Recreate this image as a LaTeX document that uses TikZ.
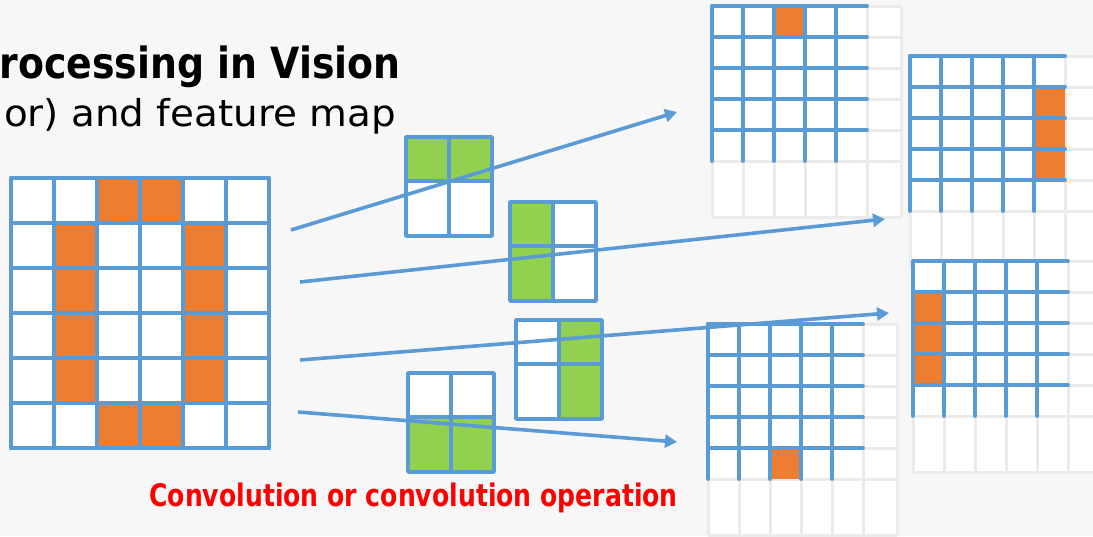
\documentclass[tikz,border=0pt]{standalone}
\usepackage{fontspec}
\setmainfont{DejaVu Sans}
\usepackage{xcolor}
\usetikzlibrary{arrows.meta}
\definecolor{gridblue}{HTML}{5B9BD5}
\definecolor{pixorange}{HTML}{ED7D31}
\definecolor{kerngreen}{HTML}{92D050}
\definecolor{fadegray}{HTML}{EBEBEB}
\definecolor{slidebg}{HTML}{F7F7F7}
\definecolor{alertred}{HTML}{FF0000}
\newcommand{\blueline}{[draw=gridblue, line width=3.8pt, line cap=round, line join=round]}
\newcommand{\grayline}{[draw=fadegray, line width=3pt]}
\newcommand{\pixel}{[fill=pixorange]}
\newcommand{\weight}{[fill=kerngreen]}
\newcommand{\flow}{[draw=gridblue, line width=3.6pt, -{Triangle[length=12pt,width=13pt]}]}
% output map: 5x5 live cells plus a faded row and column
\newcommand{\featuremap}[3]{%
  \begin{scope}[shift={(#1,#2)}]
    \fill[white] (0,0) rectangle (189,211);
    \foreach \c in {0,31,62,93,124,155,189} \draw \grayline (\c,0) -- (\c,211);
    \foreach \r in {0,31,62,93,124,155,211} \draw \grayline (0,\r) -- (189,\r);
    \foreach \c/\r in {#3} \fill \pixel (31*\c,31*\r) rectangle ++(31,31);
    \foreach \r in {0,...,4} \draw \blueline (0,31*\r) -- (155,31*\r);
    \foreach \c in {0,...,4} \draw \blueline (31*\c,0) -- (31*\c,155);
  \end{scope}}
% 2x2 filter
\newcommand{\kernel}[3]{%
  \begin{scope}[shift={(#1,#2)}]
    \fill[white] (0,0) rectangle (86,99);
    \foreach \c/\r in {#3} \fill \weight (43*\c,44*\r) rectangle (43*\c+43,44+55*\r);
    \draw \blueline (0,0) rectangle (86,99);
    \draw \blueline (43,0) -- (43,99) (0,44) -- (86,44);
  \end{scope}}

\begin{document}
\begin{tikzpicture}[x=1pt,y=-1pt]
				\fill[slidebg] (0,0) rectangle (1093,536);
				\useasboundingbox (0,0) rectangle (1093,536);
				% input image
				\fill[white] (11,178) rectangle (269,448);
				\foreach \c/\r in {2/0,3/0,1/1,4/1,1/2,4/2,1/3,4/3,1/4,4/4,2/5,3/5}
				  \fill \pixel (11+43*\c,178+45*\r) rectangle ++(43,45);
				\foreach \c in {0,...,6} \draw \blueline (11+43*\c,178) -- (11+43*\c,448);
				\foreach \r in {0,...,6} \draw \blueline (11,178+45*\r) -- (269,178+45*\r);
				% filters
				\kernel{406}{137}{0/0,1/0}
				\kernel{510}{202}{0/0,0/1}
				\kernel{516}{320}{1/0,1/1}
				\kernel{408}{373}{0/1,1/1}
				% feature maps
				\featuremap{712}{6}{2/0}
				\featuremap{910}{56}{4/1,4/2,4/3}
				\featuremap{913}{261}{0/1,0/2,0/3}
				\featuremap{708}{324}{2/4}
				% arrows
				\coordinate (src1) at (291,230);
				\coordinate (src2) at (300,282);
				\coordinate (src3) at (300,360);
				\coordinate (src4) at (298,412);
				\coordinate (dst1) at (677,112);
				\coordinate (dst2) at (885,219);
				\coordinate (dst3) at (889,313);
				\coordinate (dst4) at (677,442);
				\draw \flow (src1) -- (dst1);
				\draw \flow (src2) -- (dst2);
				\draw \flow (src3) -- (dst3);
				\draw \flow (src4) -- (dst4);
				% texts
				\node (title) at (401,78) [anchor=base east, inner sep=0pt, font=\fontsize{43}{50}\selectfont\bfseries]
				{\scalebox{0.88}[1]{rocessing in Vision}};
				\node (subtitle) at (396,126) [anchor=base east, inner sep=0pt, font=\fontsize{37}{44}\selectfont]
				{\scalebox{1.05}[1]{or) and feature map}};
				\node (caption) at (678,506) [anchor=base east, inner sep=0pt, text=alertred, font=\fontsize{31}{36}\selectfont\bfseries]
				{\scalebox{0.81}[1]{Convolution or convolution operation}};
			\end{tikzpicture}
\end{document}
